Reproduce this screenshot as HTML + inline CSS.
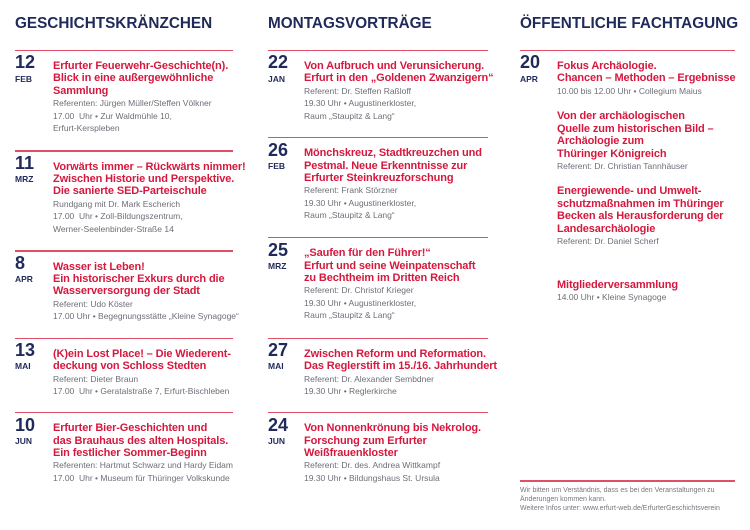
<!DOCTYPE html>
<html><head><meta charset="utf-8">
<style>
*{margin:0;padding:0;box-sizing:border-box}
html,body{width:750px;height:530px;background:#fff;overflow:hidden}
body{position:relative;font-family:"Liberation Sans",Arial,sans-serif}
.h{position:absolute;top:15.5px;font-size:15.3px;line-height:15.3px;font-weight:bold;color:#1f2a5a;white-space:nowrap}
.e{position:absolute}
.ln{position:absolute;left:0;top:0;height:1.5px;background:#e04f66}
.num{position:absolute;left:0;top:3.6px;font-size:18px;line-height:18px;font-weight:bold;color:#1f2a5a}
.mon{position:absolute;left:0;top:24.8px;font-size:8.5px;line-height:9px;font-weight:bold;color:#1f2a5a}
.b{position:absolute;top:10.3px;white-space:nowrap}
.t{font-size:11px;line-height:12.4px;font-weight:bold;color:#d5183e;letter-spacing:-0.12px}
.g{font-size:8.5px;line-height:12.5px;color:#6e6e78}
.c1{left:15px}.c1 .ln{width:218px}.c1 .b{left:38px}
.c2{left:268px}.c2 .ln{width:220px}.c2 .b{left:36px}
.c3{left:520px}.c3 .ln{width:215px}.c3 .b{left:37px}
.ab{position:absolute;left:557px;white-space:nowrap}
.foot{position:absolute;left:520px;top:487.3px;font-size:7px;line-height:8.8px;color:#77777f;white-space:nowrap}
</style></head><body>

<div class="h" style="left:15px">GESCHICHTSKRÄNZCHEN</div>
<div class="h" style="left:268px">MONTAGSVORTRÄGE</div>
<div class="h" style="left:520px">ÖFFENTLICHE FACHTAGUNG</div>

<!-- Column 1 -->
<div class="e c1" style="top:49.75px"><div class="ln"></div><div class="num">12</div><div class="mon">FEB</div>
<div class="b"><div class="t">Erfurter Feuerwehr-Geschichte(n).<br>Blick in eine außergewöhnliche<br>Sammlung</div>
<div class="g">Referenten: Jürgen Müller/Steffen Völkner<br>17.00&nbsp; Uhr • Zur Waldmühle 10,<br>Erfurt-Kerspleben</div></div></div>

<div class="e c1" style="top:150.25px"><div class="ln"></div><div class="num">11</div><div class="mon">MRZ</div>
<div class="b"><div class="t">Vorwärts immer – Rückwärts nimmer!<br>Zwischen Historie und Perspektive.<br>Die sanierte SED-Parteischule</div>
<div class="g">Rundgang mit Dr. Mark Escherich<br>17.00&nbsp; Uhr • Zoll-Bildungszentrum,<br>Werner-Seelenbinder-Straße 14</div></div></div>

<div class="e c1" style="top:250.25px"><div class="ln"></div><div class="num">8</div><div class="mon">APR</div>
<div class="b"><div class="t">Wasser ist Leben!<br>Ein historischer Exkurs durch die<br>Wasserversorgung der Stadt</div>
<div class="g">Referent: Udo Köster<br>17.00 Uhr • Begegnungsstätte „Kleine Synagoge“</div></div></div>

<div class="e c1" style="top:337.55px"><div class="ln"></div><div class="num">13</div><div class="mon">MAI</div>
<div class="b"><div class="t">(K)ein Lost Place! – Die Wiederent-<br>deckung von Schloss Stedten</div>
<div class="g">Referent: Dieter Braun<br>17.00&nbsp; Uhr • Geratalstraße 7, Erfurt-Bischleben</div></div></div>

<div class="e c1" style="top:411.95px"><div class="ln"></div><div class="num">10</div><div class="mon">JUN</div>
<div class="b"><div class="t">Erfurter Bier-Geschichten und<br>das Brauhaus des alten Hospitals.<br>Ein festlicher Sommer-Beginn</div>
<div class="g">Referenten: Hartmut Schwarz und Hardy Eidam<br>17.00&nbsp; Uhr • Museum für Thüringer Volkskunde</div></div></div>

<!-- Column 2 -->
<div class="e c2" style="top:49.75px"><div class="ln"></div><div class="num">22</div><div class="mon">JAN</div>
<div class="b"><div class="t">Von Aufbruch und Verunsicherung.<br>Erfurt in den „Goldenen Zwanzigern“</div>
<div class="g">Referent: Dr. Steffen Raßloff<br>19.30 Uhr • Augustinerkloster,<br>Raum „Staupitz &amp; Lang“</div></div></div>

<div class="e c2" style="top:136.95px"><div class="ln"></div><div class="num">26</div><div class="mon">FEB</div>
<div class="b"><div class="t">Mönchskreuz, Stadtkreuzchen und<br>Pestmal. Neue Erkenntnisse zur<br>Erfurter Steinkreuzforschung</div>
<div class="g">Referent: Frank Störzner<br>19.30 Uhr • Augustinerkloster,<br>Raum „Staupitz &amp; Lang“</div></div></div>

<div class="e c2" style="top:236.95px"><div class="ln"></div><div class="num">25</div><div class="mon">MRZ</div>
<div class="b"><div class="t">„Saufen für den Führer!“<br>Erfurt und seine Weinpatenschaft<br>zu Bechtheim im Dritten Reich</div>
<div class="g">Referent: Dr. Christof Krieger<br>19.30 Uhr • Augustinerkloster,<br>Raum „Staupitz &amp; Lang“</div></div></div>

<div class="e c2" style="top:337.55px"><div class="ln"></div><div class="num">27</div><div class="mon">MAI</div>
<div class="b"><div class="t">Zwischen Reform und Reformation.<br>Das Reglerstift im 15./16. Jahrhundert</div>
<div class="g">Referent: Dr. Alexander Sembdner<br>19.30 Uhr • Reglerkirche</div></div></div>

<div class="e c2" style="top:411.95px"><div class="ln"></div><div class="num">24</div><div class="mon">JUN</div>
<div class="b"><div class="t">Von Nonnenkrönung bis Nekrolog.<br>Forschung zum Erfurter<br>Weißfrauenkloster</div>
<div class="g">Referent: Dr. des. Andrea Wittkampf<br>19.30 Uhr • Bildungshaus St. Ursula</div></div></div>

<!-- Column 3 -->
<div class="e c3" style="top:49.75px"><div class="ln"></div><div class="num">20</div><div class="mon">APR</div>
<div class="b"><div class="t">Fokus Archäologie.<br>Chancen – Methoden – Ergebnisse</div>
<div class="g">10.00 bis 12.00 Uhr • Collegium Maius</div></div></div>

<div class="ab" style="top:110.3px"><div class="t">Von der archäologischen<br>Quelle zum historischen Bild –<br>Archäologie zum<br>Thüringer Königreich</div>
<div class="g">Referent: Dr. Christian Tannhäuser</div></div>

<div class="ab" style="top:185.3px"><div class="t">Energiewende- und Umwelt-<br>schutzmaßnahmen im Thüringer<br>Becken als Herausforderung der<br>Landesarchäologie</div>
<div class="g">Referent: Dr. Daniel Scherf</div></div>

<div class="ab" style="top:278.6px"><div class="t">Mitgliederversammlung</div>
<div class="g">14.00 Uhr • Kleine Synagoge</div></div>

<div style="position:absolute;left:520px;top:480px;width:215px;height:1.5px;background:#e04f66"></div>
<div class="foot">Wir bitten um Verständnis, dass es bei den Veranstaltungen zu<br>Änderungen kommen kann.<br>Weitere Infos unter: www.erfurt-web.de/ErfurterGeschichtsverein</div>

</body></html>
